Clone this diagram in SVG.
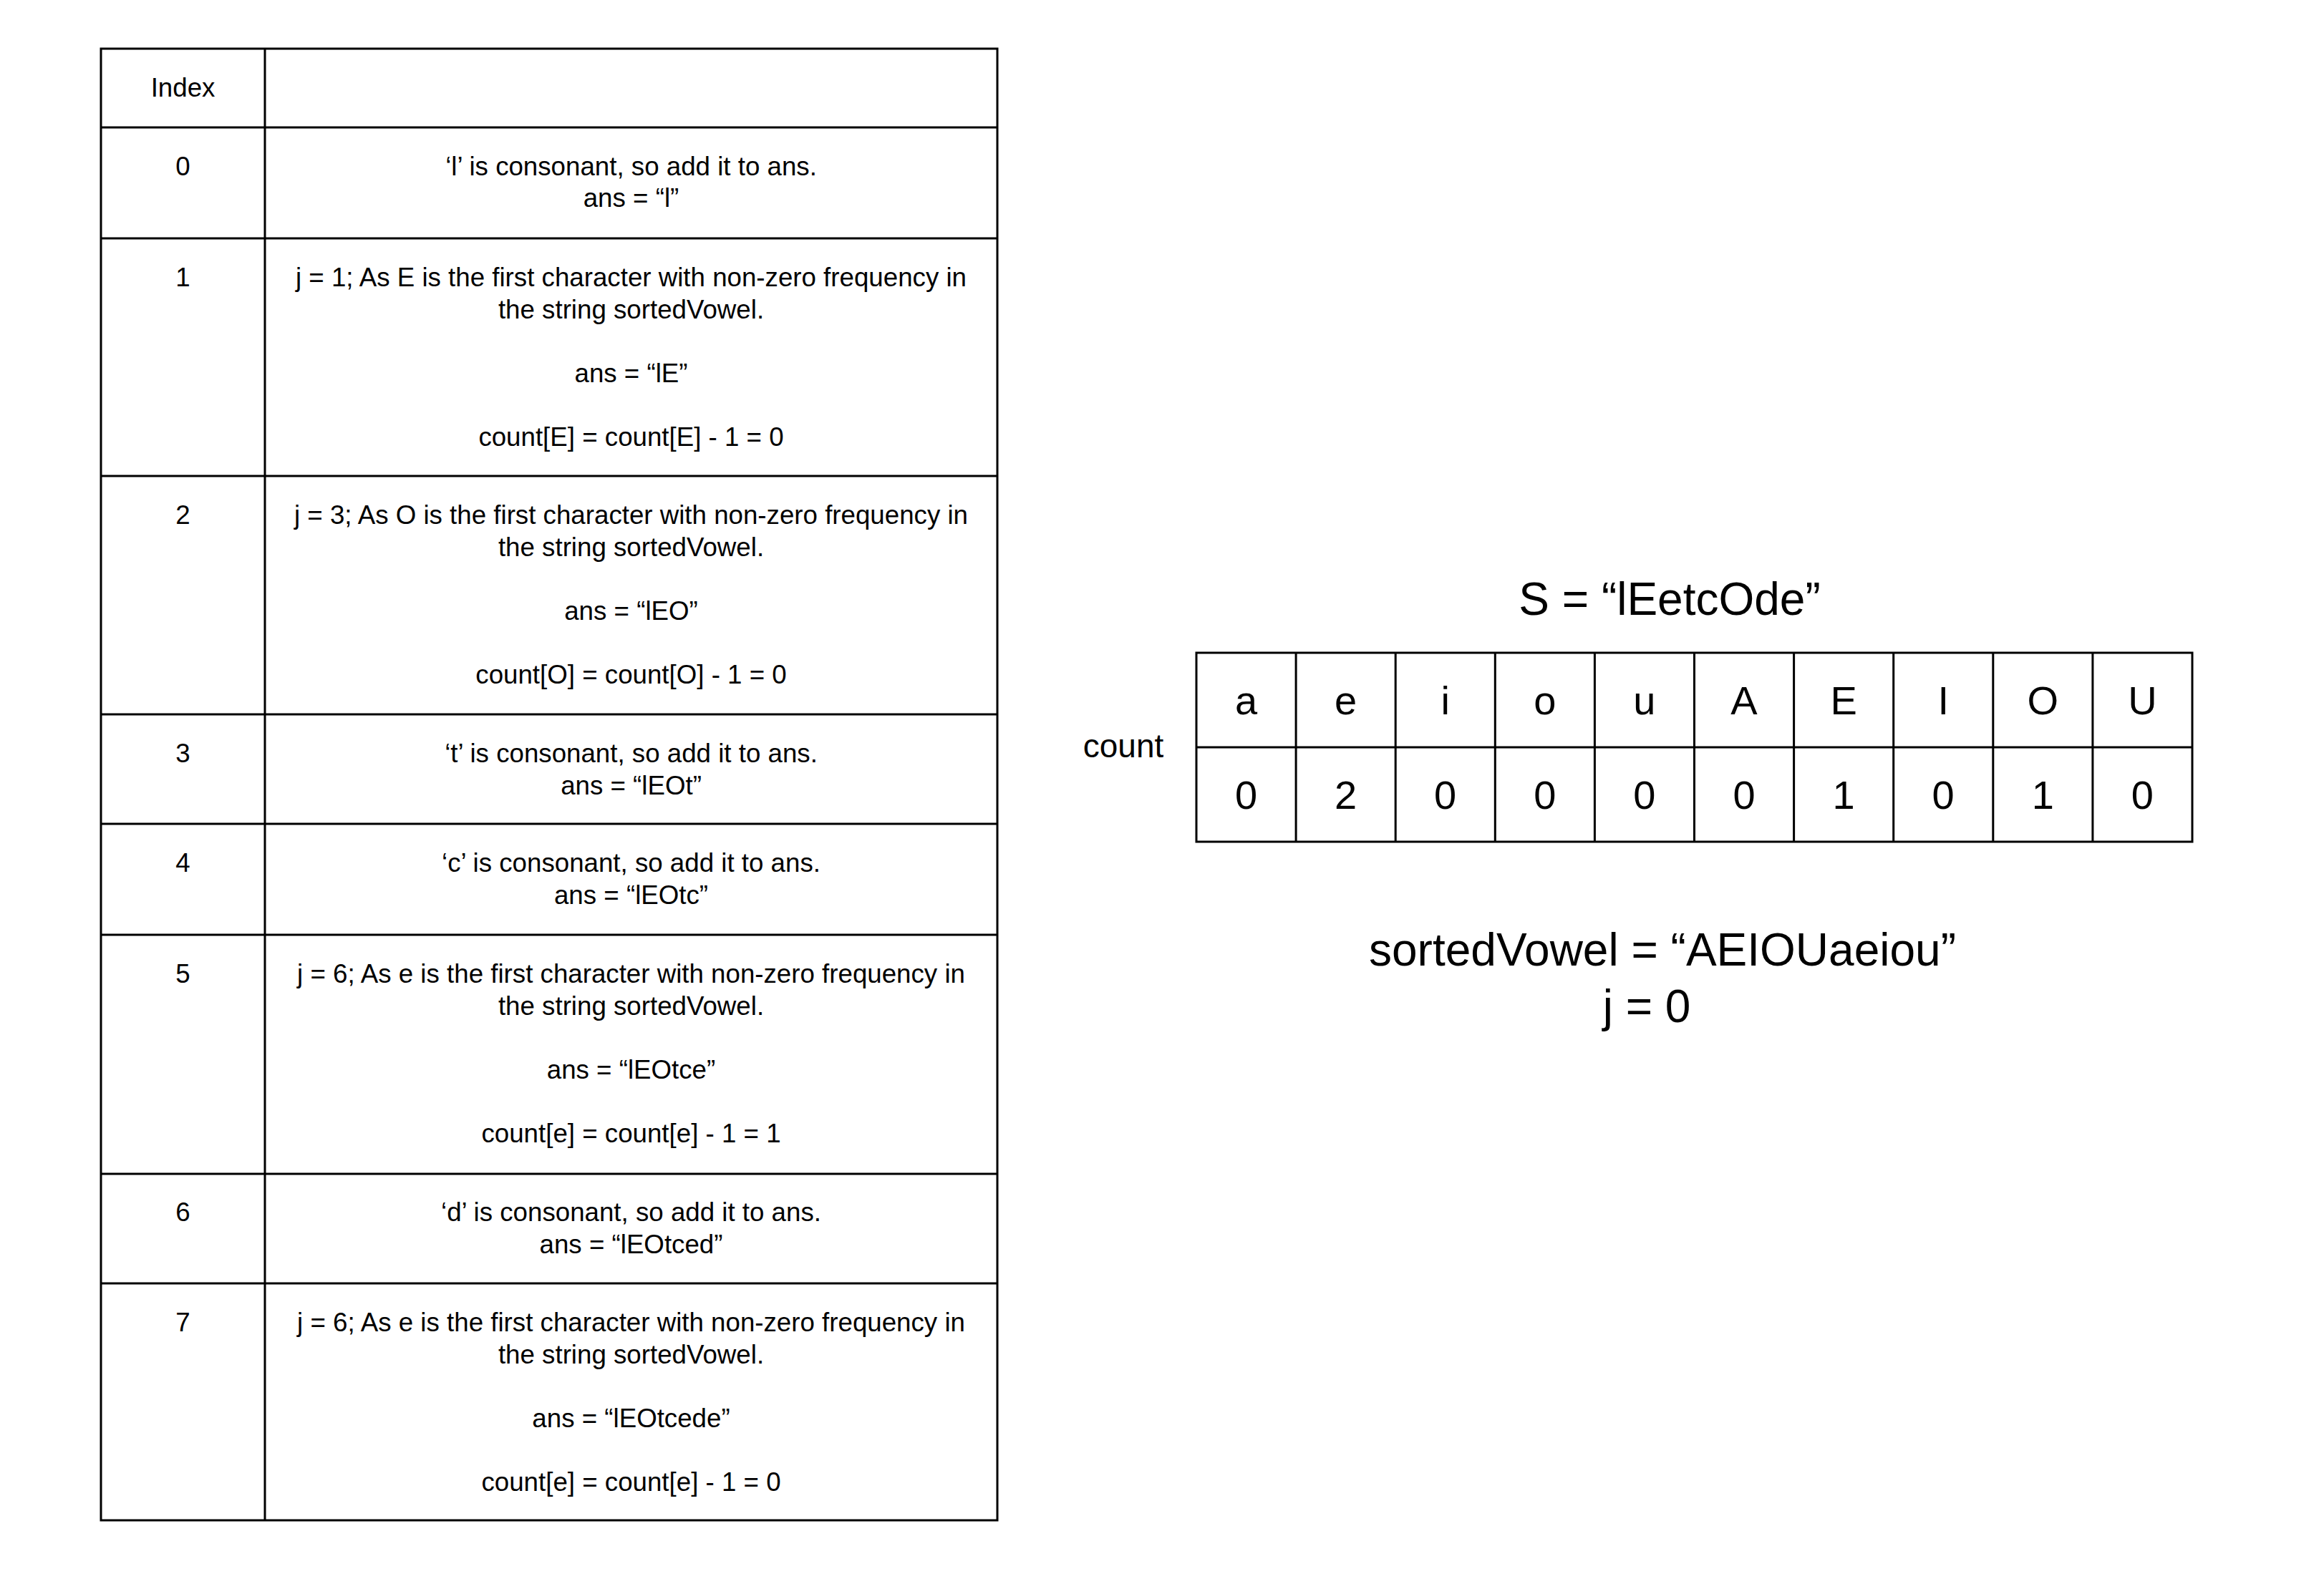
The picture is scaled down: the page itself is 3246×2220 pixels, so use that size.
<svg xmlns="http://www.w3.org/2000/svg" width="3246" height="2220" viewBox="0 0 3246 2220">
<style>
.ln{stroke:#000;stroke-width:3;fill:none}
.t{font-family:"Liberation Sans",Arial,sans-serif;font-size:36.7px;fill:#000;text-anchor:middle}
.c{font-family:"Liberation Sans",Arial,sans-serif;font-size:56px;fill:#000;text-anchor:middle}
.big{font-family:"Liberation Sans",Arial,sans-serif;font-size:64px;fill:#000;text-anchor:middle}
</style>
<rect width="3246" height="2220" fill="#fff"/>
<g id="steps-table">
  <rect class="ln" x="141" y="68" width="1252" height="2056"/>
  <line class="ln" x1="370" y1="68" x2="370" y2="2124"/>
  <line class="ln" x1="141" y1="178" x2="1393" y2="178"/>
  <line class="ln" x1="141" y1="333" x2="1393" y2="333"/>
  <line class="ln" x1="141" y1="665" x2="1393" y2="665"/>
  <line class="ln" x1="141" y1="998" x2="1393" y2="998"/>
  <line class="ln" x1="141" y1="1151" x2="1393" y2="1151"/>
  <line class="ln" x1="141" y1="1306" x2="1393" y2="1306"/>
  <line class="ln" x1="141" y1="1640" x2="1393" y2="1640"/>
  <line class="ln" x1="141" y1="1793" x2="1393" y2="1793"/>
  <g id="row-header">
    <text class="t" x="255.5" y="135">Index</text>
  </g>
  <g id="row-0">
    <text class="t" x="255.5" y="245">0</text>
    <text class="t" x="881.5" y="245">‘l’ is consonant, so add it to ans.</text>
    <text class="t" x="881.5" y="289">ans = “l”</text>
  </g>
  <g id="row-1">
    <text class="t" x="255.5" y="400">1</text>
    <text class="t" x="881.5" y="400">j = 1; As E is the first character with non-zero frequency in</text>
    <text class="t" x="881.5" y="444.5">the string sortedVowel.</text>
    <text class="t" x="881.5" y="533.5">ans = “lE”</text>
    <text class="t" x="881.5" y="622.5">count[E] = count[E] - 1 = 0</text>
  </g>
  <g id="row-2">
    <text class="t" x="255.5" y="732">2</text>
    <text class="t" x="881.5" y="732">j = 3; As O is the first character with non-zero frequency in</text>
    <text class="t" x="881.5" y="776.5">the string sortedVowel.</text>
    <text class="t" x="881.5" y="865.5">ans = “lEO”</text>
    <text class="t" x="881.5" y="954.5">count[O] = count[O] - 1 = 0</text>
  </g>
  <g id="row-3">
    <text class="t" x="255.5" y="1065">3</text>
    <text class="t" x="881.5" y="1065">‘t’ is consonant, so add it to ans.</text>
    <text class="t" x="881.5" y="1109.5">ans = “lEOt”</text>
  </g>
  <g id="row-4">
    <text class="t" x="255.5" y="1218">4</text>
    <text class="t" x="881.5" y="1218">‘c’ is consonant, so add it to ans.</text>
    <text class="t" x="881.5" y="1262.5">ans = “lEOtc”</text>
  </g>
  <g id="row-5">
    <text class="t" x="255.5" y="1373">5</text>
    <text class="t" x="881.5" y="1373">j = 6; As e is the first character with non-zero frequency in</text>
    <text class="t" x="881.5" y="1417.5">the string sortedVowel.</text>
    <text class="t" x="881.5" y="1506.5">ans = “lEOtce”</text>
    <text class="t" x="881.5" y="1595.5">count[e] = count[e] - 1 = 1</text>
  </g>
  <g id="row-6">
    <text class="t" x="255.5" y="1706">6</text>
    <text class="t" x="881.5" y="1706">‘d’ is consonant, so add it to ans.</text>
    <text class="t" x="881.5" y="1750.5">ans = “lEOtced”</text>
  </g>
  <g id="row-7">
    <text class="t" x="255.5" y="1860">7</text>
    <text class="t" x="881.5" y="1860">j = 6; As e is the first character with non-zero frequency in</text>
    <text class="t" x="881.5" y="1904.5">the string sortedVowel.</text>
    <text class="t" x="881.5" y="1993.5">ans = “lEOtcede”</text>
    <text class="t" x="881.5" y="2082.5">count[e] = count[e] - 1 = 0</text>
  </g>
</g>
<g id="title-s">
  <text class="big" x="2332" y="859">S = “lEetcOde”</text>
</g>
<g id="count-label">
  <text class="t" style="font-size:46px" x="1569" y="1058">count</text>
</g>
<g id="count-table">
  <rect class="ln" x="1671" y="912" width="1391" height="264"/>
  <line class="ln" x1="1671" y1="1044" x2="3062" y2="1044"/>
  <line class="ln" x1="1810.1" y1="912" x2="1810.1" y2="1176"/>
  <line class="ln" x1="1949.2" y1="912" x2="1949.2" y2="1176"/>
  <line class="ln" x1="2088.3" y1="912" x2="2088.3" y2="1176"/>
  <line class="ln" x1="2227.4" y1="912" x2="2227.4" y2="1176"/>
  <line class="ln" x1="2366.5" y1="912" x2="2366.5" y2="1176"/>
  <line class="ln" x1="2505.6" y1="912" x2="2505.6" y2="1176"/>
  <line class="ln" x1="2644.7" y1="912" x2="2644.7" y2="1176"/>
  <line class="ln" x1="2783.8" y1="912" x2="2783.8" y2="1176"/>
  <line class="ln" x1="2922.9" y1="912" x2="2922.9" y2="1176"/>
  <text class="c" x="1740.5" y="998">a</text>
  <text class="c" x="1879.6" y="998">e</text>
  <text class="c" x="2018.7" y="998">i</text>
  <text class="c" x="2157.8" y="998">o</text>
  <text class="c" x="2296.9" y="998">u</text>
  <text class="c" x="2436" y="998">A</text>
  <text class="c" x="2575.1" y="998">E</text>
  <text class="c" x="2714.2" y="998">I</text>
  <text class="c" x="2853.3" y="998">O</text>
  <text class="c" x="2992.4" y="998">U</text>
  <text class="c" x="1740.5" y="1130">0</text>
  <text class="c" x="1879.6" y="1130">2</text>
  <text class="c" x="2018.7" y="1130">0</text>
  <text class="c" x="2157.8" y="1130">0</text>
  <text class="c" x="2296.9" y="1130">0</text>
  <text class="c" x="2436" y="1130">0</text>
  <text class="c" x="2575.1" y="1130">1</text>
  <text class="c" x="2714.2" y="1130">0</text>
  <text class="c" x="2853.3" y="1130">1</text>
  <text class="c" x="2992.4" y="1130">0</text>
</g>
<g id="sorted-vowel">
  <text class="big" x="2322" y="1349">sortedVowel = “AEIOUaeiou”</text>
  <text class="big" x="2300" y="1428">j = 0</text>
</g>
<g id="connectors"></g>
</svg>
